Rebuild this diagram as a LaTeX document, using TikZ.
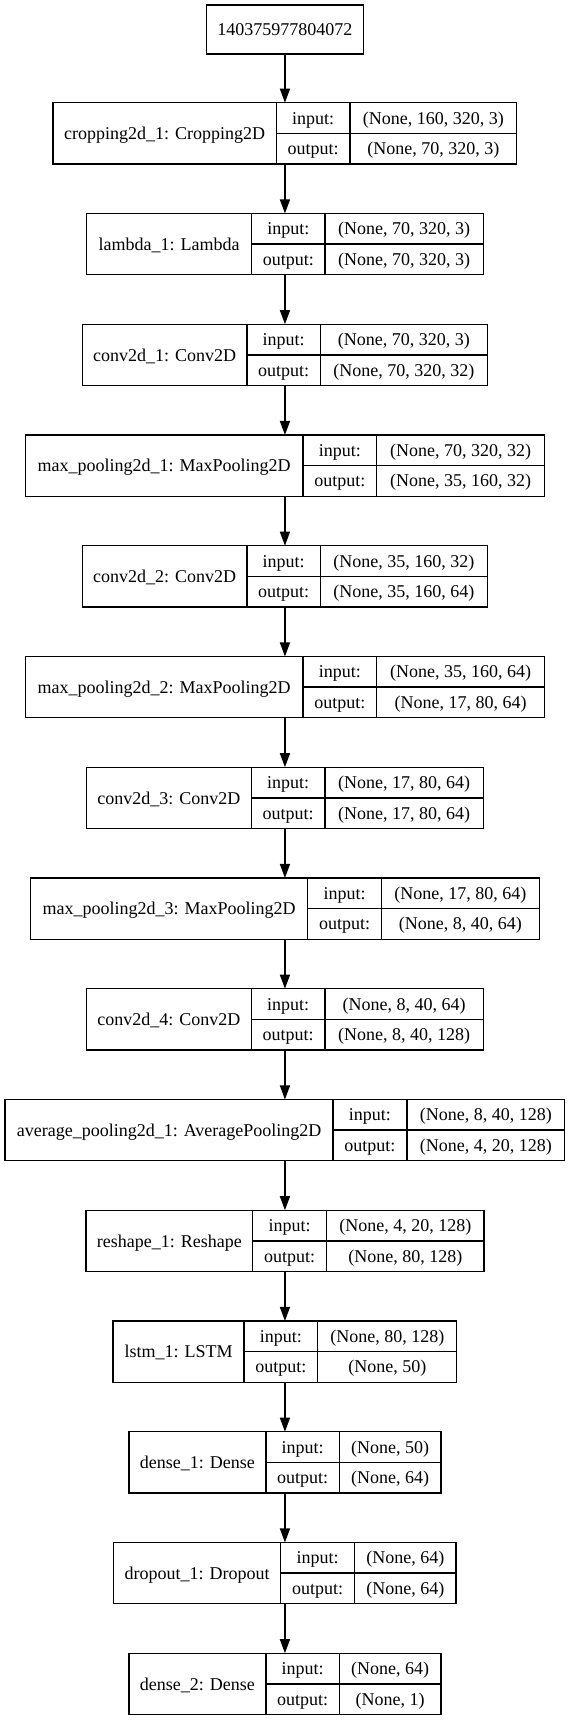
\documentclass[tikz,border=0pt]{standalone}
\usepackage{fontspec}
\setmainfont{Liberation Serif}
\usetikzlibrary{arrows.meta}
\tikzset{
  box/.style={draw=black, line width=1.4pt, inner sep=0pt, outer sep=0pt, minimum height=61.3pt},
  txt/.style={inner sep=0pt, anchor=base, font=\fontsize{18}{21}\selectfont},
  div/.style={draw=black, line width=1.4pt},
  conn/.style={draw=black, line width=1.4pt, -{Triangle[length=14pt,width=10pt]}},
}
\newcommand\kerasnode[8]{%
  \pgfmathsetmacro\kt{102.7+110.75*(#2-1)}%
  \pgfmathsetmacro\kb{\kt+61.3}%
  \pgfmathsetmacro\km{\kt+30.65}%
  \pgfmathsetmacro\kr{522.4-#3}%
  \pgfmathsetmacro\kw{(\kr-#3)*1.0909}%
  \node[box, minimum width=\kw pt, anchor=north] (#1) at (261.2,\kt) {};
  \draw[div] (#4,\kt) -- (#4,\kb) (#5,\kt) -- (#5,\kb) (#4,\km) -- (\kr,\km);
  \node[txt] (#1-name) at ({(#3+#4)/2}, {\km+6.3}) {#6};
  \node[txt] (#1-inl) at ({(#4+#5)/2}, {\kt+15.3+6.2}) {input:};
  \node[txt] (#1-outl) at ({(#4+#5)/2}, {\kt+46+6}) {output:};
  \node[txt] (#1-inv) at ({(#5+\kr)/2}, {\kt+15.3+6.2}) {#7};
  \node[txt] (#1-outv) at ({(#5+\kr)/2}, {\kt+46+6}) {#8};
}
\begin{document}
\begin{tikzpicture}[x=1.0909pt,y=-1pt]
\useasboundingbox (0,0) rectangle (520.67,1720);
\node[box, minimum width=157.1pt, minimum height=49pt, anchor=north] (in0) at (261.2,5) {};
\node[txt] (in0-name) at (261.2,36) {140375977804072};
\kerasnode{L1}{1}{48.7}{253.3}{320.7}{cropping2d\_1: Cropping2D}{(None, 160, 320, 3)}{(None, 70, 320, 3)}
\kerasnode{L2}{2}{79.3}{230.7}{298}{lambda\_1: Lambda}{(None, 70, 320, 3)}{(None, 70, 320, 3)}
\kerasnode{L3}{3}{75.7}{226.3}{293.7}{conv2d\_1: Conv2D}{(None, 70, 320, 3)}{(None, 70, 320, 32)}
\kerasnode{L4}{4}{23.3}{277.7}{345.3}{max\_pooling2d\_1: MaxPooling2D}{(None, 70, 320, 32)}{(None, 35, 160, 32)}
\kerasnode{L5}{5}{75.7}{226.3}{293.7}{conv2d\_2: Conv2D}{(None, 35, 160, 32)}{(None, 35, 160, 64)}
\kerasnode{L6}{6}{23.3}{277.7}{345.3}{max\_pooling2d\_2: MaxPooling2D}{(None, 35, 160, 64)}{(None, 17, 80, 64)}
\kerasnode{L7}{7}{79.3}{230.3}{298}{conv2d\_3: Conv2D}{(None, 17, 80, 64)}{(None, 17, 80, 64)}
\kerasnode{L8}{8}{28}{282}{349.7}{max\_pooling2d\_3: MaxPooling2D}{(None, 17, 80, 64)}{(None, 8, 40, 64)}
\kerasnode{L9}{9}{79.3}{230.3}{298}{conv2d\_4: Conv2D}{(None, 8, 40, 64)}{(None, 8, 40, 128)}
\kerasnode{L10}{10}{4.7}{305.3}{373}{average\_pooling2d\_1: AveragePooling2D}{(None, 8, 40, 128)}{(None, 4, 20, 128)}
\kerasnode{L11}{11}{78.7}{231.7}{299.3}{reshape\_1: Reshape}{(None, 4, 20, 128)}{(None, 80, 128)}
\kerasnode{L12}{12}{103.7}{223.7}{291.3}{lstm\_1: LSTM}{(None, 80, 128)}{(None, 50)}
\kerasnode{L13}{13}{118.3}{243.7}{311}{dense\_1: Dense}{(None, 50)}{(None, 64)}
\kerasnode{L14}{14}{104.3}{257.3}{325}{dropout\_1: Dropout}{(None, 64)}{(None, 64)}
\kerasnode{L15}{15}{118.3}{243.7}{311}{dense\_2: Dense}{(None, 64)}{(None, 1)}
\draw[conn] (in0.south) -- (L1.north);
\foreach \a/\b in {L1/L2,L2/L3,L3/L4,L4/L5,L5/L6,L6/L7,L7/L8,L8/L9,L9/L10,L10/L11,L11/L12,L12/L13,L13/L14,L14/L15}
  \draw[conn] (\a.south) -- (\b.north);
\end{tikzpicture}
\end{document}
